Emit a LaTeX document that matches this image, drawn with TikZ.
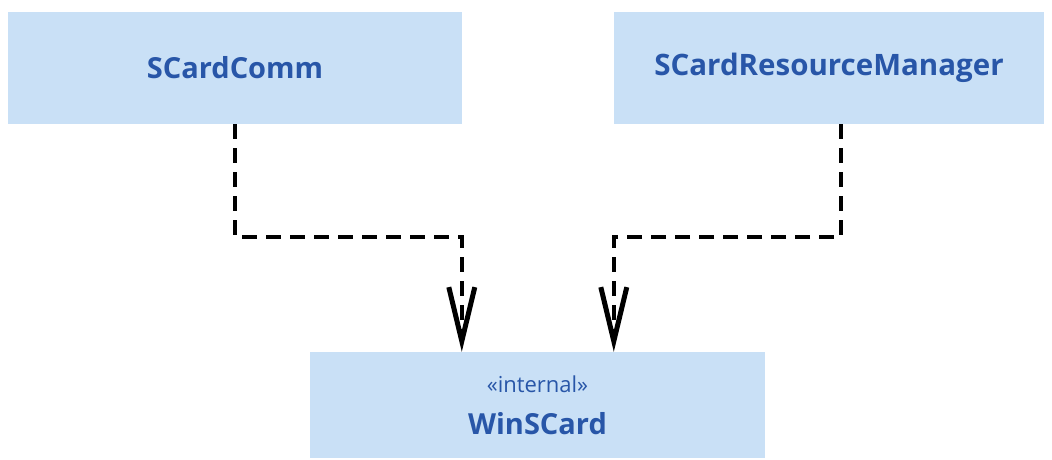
\documentclass[tikz,border=0pt]{standalone}
\usepackage{fontspec}
\setmainfont{Open Sans}
\usetikzlibrary{arrows.meta,positioning,calc}
\definecolor{boxfill}{RGB}{201,224,246}
\definecolor{boxtext}{RGB}{40,86,168}
\begin{document}
\begin{tikzpicture}[
        x=1pt, y=-1pt,
        cls/.style={fill=boxfill, draw=none, text=boxtext, inner sep=0pt,
            font=\fontsize{29}{34}\selectfont\bfseries, align=center},
        dep/.style={black, line width=4pt, dash pattern=on 15pt off 9pt,
            -{Straight Barb[length=54pt,width=26pt,line width=5pt]}},
    ]
    \useasboundingbox (0,0) rectangle (1052,460);
    % classes
    \node[cls, minimum width=454pt, minimum height=112pt] (comm) at (235,68) {SCardComm};
    \node[cls, minimum width=430pt, minimum height=112pt] (resmgr) at (829,68)
        {\fontsize{29.5}{34}\selectfont SCardResourceManager};
    \node[cls, minimum width=455pt, minimum height=106pt] (winscard) at (537.5,405)
        {{\fontsize{22}{24}\selectfont\mdseries «internal»}\\[8pt]WinSCard};
    % dependencies
    \coordinate (inL) at ($(winscard.north west)+(152,0)$);
    \coordinate (inR) at ($(winscard.north west)+(304,0)$);
    \draw[dep] (comm.south) -- ++(0,113) -| (inL);
    \draw[dep] ($(resmgr.south)+(12,0)$) -- ++(0,113) -| (inR);
\end{tikzpicture}
\end{document}
